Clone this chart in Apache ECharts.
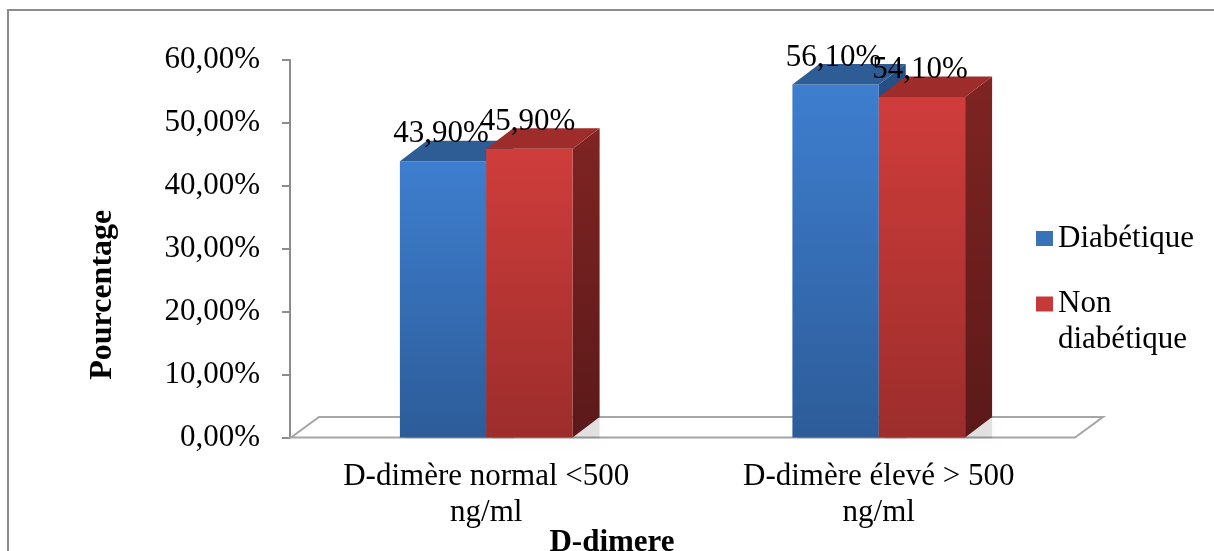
<!DOCTYPE html>
<html><head><meta charset="utf-8">
<script src="https://cdn.jsdelivr.net/npm/echarts@6/dist/echarts.min.js"></script>
<style>html,body{margin:0;padding:0;background:#fff;overflow:hidden}#c{width:1214px;height:551px}</style>
</head><body><div id="c"></div>
<script>
const categories = ['D-dimère normal <500\nng/ml', 'D-dimère élevé > 500\nng/ml'];
const seriesNames = ['Diabétique', 'Non diabétique'];
const diabetique = [43.9, 56.1];
const nonDiabetique = [45.9, 54.1];
const yMin = 0, yMax = 60, yStep = 10;
const xAxisTitle = 'D-dimere';
const yAxisTitle = 'Pourcentage';

const FONT = "'Times New Roman', 'Liberation Serif', serif";
const BAR_FRAC = 0.22;
const DX = 27, DY = 20.5;

const fmt = v => v.toFixed(2).replace('.', ',') + '%';

const palettes = [
  {front: ['#3e7ecf', '#2d5c99'], side: ['#284f85', '#1f3e68'], top: '#2e5d96', legend: '#3a72b8'},
  {front: ['#cf3d3b', '#9c2d2b'], side: ['#7f2423', '#5b1919'], top: '#9e2c2a', legend: '#c53a38'}
];

function grad(c) {
  return new echarts.graphic.LinearGradient(0, 0, 0, 1, [{offset: 0, color: c[0]}, {offset: 1, color: c[1]}]);
}

function makeRender(sIdx) {
  const p = palettes[sIdx];
  return function (params, api) {
    const ci = api.value(0), v = api.value(1);
    const band = api.size([1, 0])[0];
    const c = api.coord([ci, v]);
    const b = api.coord([ci, 0]);
    const w = band * BAR_FRAC;
    const x0 = sIdx === 0 ? c[0] - w : c[0];
    const x1 = x0 + w;
    const yt = c[1], yb = b[1];
    return {
      type: 'group',
      children: [
        {type: 'polygon', shape: {points: [[x0 + 6, yb + 1], [x1 + DX, yb + 1], [x1 + DX, yb - DY], [x0 + 6, yb - DY]]},
         style: {fill: 'rgba(0,0,0,0.10)', shadowBlur: 10, shadowColor: 'rgba(0,0,0,0.2)'}, z2: 0},
        {type: 'polygon', shape: {points: [[x0, yt], [x1, yt], [x1, yb], [x0, yb]]}, style: {fill: grad(p.front)}, z2: 2},
        {type: 'polygon', shape: {points: [[x1, yt], [x1 + DX, yt - DY], [x1 + DX, yb - DY], [x1, yb]]}, style: {fill: grad(p.side)}, z2: 1},
        {type: 'polygon', shape: {points: [[x0, yt], [x1, yt], [x1 + DX, yt - DY], [x0 + DX, yt - DY]]}, style: {fill: p.top}, z2: 2},
        {type: 'text', x: (x0 + x1) / 2 - 2, y: yt - 27, z2: 10,
         style: {text: fmt(v), fontFamily: FONT, fontSize: 31, fill: '#000', align: 'center', verticalAlign: 'middle'}}
      ]
    };
  };
}

function floorRender(params, api) {
  const cs = params.coordSys;
  const xl = cs.x + 1, xr = cs.x + cs.width, yb = cs.y + cs.height;
  return {
    type: 'polygon',
    shape: {points: [[xl, yb], [xr, yb], [xr + DX + 1, yb - DY], [xl + DX + 1, yb - DY]]},
    style: {fill: '#fff', stroke: '#a6a6a6', lineWidth: 2}
  };
}

const textBase = {fontFamily: FONT, fontSize: 31, color: '#000'};

const chart = echarts.init(document.getElementById('c'), null, {renderer: 'canvas'});
chart.setOption({
  animation: false,
  backgroundColor: '#fff',
  graphic: [{type: 'rect', silent: true, z: -10, shape: {x: 8, y: 10, width: 1240, height: 620},
             style: {fill: 'none', stroke: '#8c8c8c', lineWidth: 2}}],
  grid: {left: 290, right: 139, top: 60, bottom: 113.5, containLabel: false, outerBoundsMode: 'none'},
  legend: [
    {data: [seriesNames[0]], orient: 'vertical', left: 1036, top: 220.5, padding: 0, icon: 'rect',
     itemWidth: 17, itemHeight: 15, textStyle: Object.assign({lineHeight: 36}, textBase)},
    {data: [seriesNames[1]], orient: 'vertical', left: 1036, top: 250, padding: 0, icon: 'rect',
     itemWidth: 17, itemHeight: 15, formatter: () => '\nNon\ndiabétique',
     textStyle: Object.assign({lineHeight: 36}, textBase)}
  ],
  xAxis: {
    type: 'category', data: categories,
    axisLine: {show: false}, axisTick: {show: false},
    axisLabel: Object.assign({margin: 21, lineHeight: 36, interval: 0}, textBase),
    name: xAxisTitle, nameLocation: 'middle', nameGap: 90, nameMoveOverlap: false,
    nameTextStyle: {fontFamily: FONT, fontSize: 31, fontWeight: 'bold', color: '#000', lineHeight: 31, padding: [0, 141, 0, 0]}
  },
  yAxis: {
    type: 'value', min: yMin, max: yMax, interval: yStep,
    axisLine: {show: true, lineStyle: {color: '#8c8c8c', width: 2}},
    axisTick: {show: true, length: 8, lineStyle: {color: '#8c8c8c', width: 2}},
    splitLine: {show: false},
    axisLabel: Object.assign({margin: 30, formatter: v => fmt(v)}, textBase),
    name: yAxisTitle, nameLocation: 'middle', nameGap: 171, nameRotate: 90, nameMoveOverlap: false,
    nameTextStyle: {fontFamily: FONT, fontSize: 32, fontWeight: 'bold', color: '#000', lineHeight: 32, padding: [0, 92, 0, 0]}
  },
  series: [
    {type: 'custom', name: '__floor', renderItem: floorRender, data: [[0, 0]], z: 1, silent: true, encode: {x: 0, y: 1}},
    {type: 'custom', name: seriesNames[0], renderItem: makeRender(0), z: 2,
     itemStyle: {color: palettes[0].legend}, encode: {x: 0, y: 1},
     data: diabetique.map((v, i) => [i, v])},
    {type: 'custom', name: seriesNames[1], renderItem: makeRender(1), z: 3,
     itemStyle: {color: palettes[1].legend}, encode: {x: 0, y: 1},
     data: nonDiabetique.map((v, i) => [i, v])}
  ]
});
</script></body></html>
